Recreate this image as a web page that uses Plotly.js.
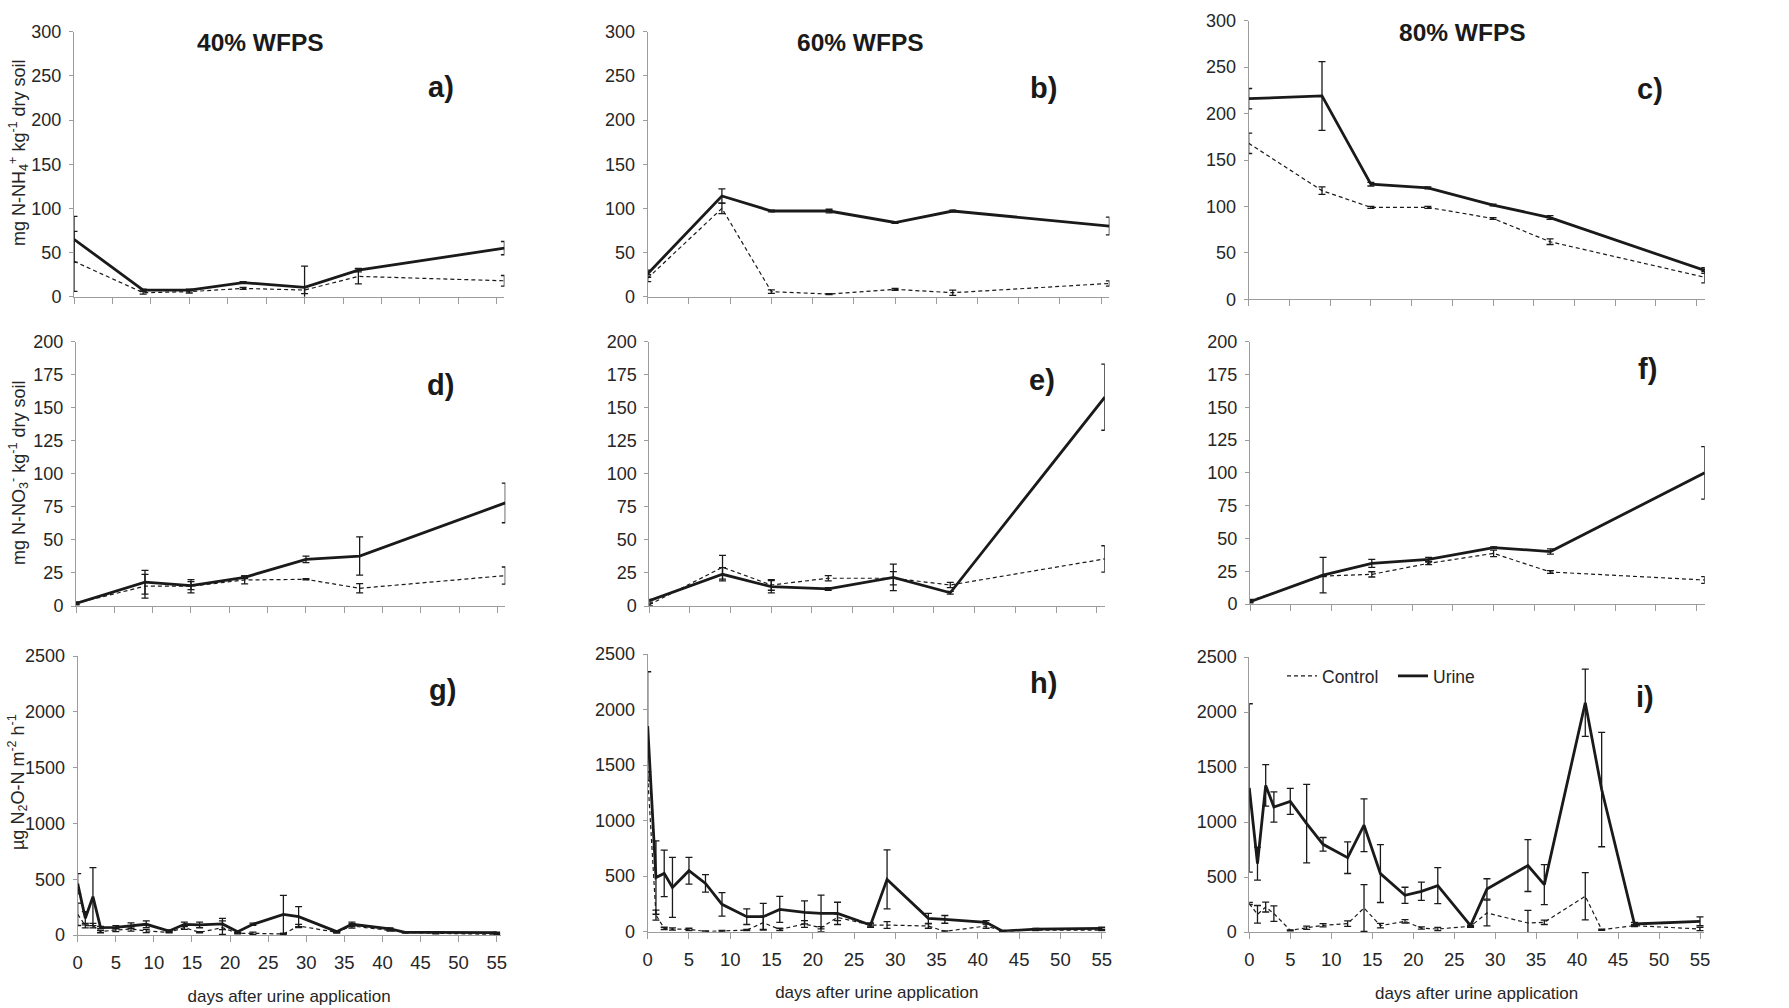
<!DOCTYPE html>
<html>
<head>
<meta charset="utf-8">
<script src="https://cdn.plot.ly/plotly-3.0.1.min.js"></script>
<style>html,body{margin:0;padding:0;background:#fff;}#chart{width:1789px;height:1008px;}</style>
</head>
<body>
<div id="chart"></div>
<script>
// ---------- DATA ----------
const daysSoil = [0, 9, 15, 22, 30, 37, 56];
const daysN2O = [0, 1, 2, 3, 5, 7, 9, 12, 14, 16, 19, 21, 23, 27, 29, 34, 36, 41, 43, 47, 55];

// NH4+ (mg N kg-1 dry soil)
const nh4_40_urine = [65, 7.5, 7.5, 16, 10.6, 30, 55];
const nh4_40_urine_err = [26, 1, 1, 1, 24, 2, 7.5];
const nh4_40_control = [40, 4.5, 5.7, 9.4, 7.5, 23, 18];
const nh4_40_control_err = [34, 1.5, 1.5, 1, 4, 8.5, 6];
const nh4_60_urine = [26, 114, 97, 97, 84, 97, 80];
const nh4_60_urine_err = [4, 8, 1, 2, 1, 1, 10];
const nh4_60_control = [21, 100, 5.7, 3, 8.3, 4.5, 15];
const nh4_60_control_err = [4, 6, 2, 0.5, 1, 3, 3];
const nh4_80_urine = [216, 219, 124, 120, 101.5, 88, 31];
const nh4_80_urine_err = [11, 37, 2, 1, 1, 2, 3];
const nh4_80_control = [168, 117, 99, 99, 87, 62, 23.7];
const nh4_80_control_err = [11, 4, 1, 1, 1, 3, 6];

// NO3- (mg N kg-1 dry soil)
const no3_40_urine = [2, 18, 15.4, 21.7, 35.3, 37.8, 78];
const no3_40_urine_err = [1, 9, 3, 1, 2.5, 14.5, 15];
const no3_40_control = [2, 15, 15, 19.7, 20.2, 13.4, 23];
const no3_40_control_err = [1, 9, 5, 3, 0.5, 3.5, 6.5];
const no3_60_urine = [4, 24, 14.6, 12.9, 21.7, 10, 158];
const no3_60_urine_err = [1, 5, 4.7, 1, 10, 1, 25];
const no3_60_control = [1, 29.3, 15.9, 21, 21, 15.9, 35.6];
const no3_60_control_err = [1, 9, 4, 2, 5, 2, 10];
const no3_80_urine = [1.8, 22, 31, 34, 43, 40, 100];
const no3_80_urine_err = [1, 13.5, 3, 1.5, 0.5, 2, 20];
const no3_80_control = [2.5, 21.3, 22.6, 31, 38.6, 24.4, 18.3];
const no3_80_control_err = [1, 0.5, 2, 1, 2.5, 1, 2.5];

// N2O (ug N2O-N m-2 h-1)
const n2o_40_urine = [460, 150, 344, 66, 69, 84, 96, 36, 96, 90, 99, 30, 96, 185, 164, 30, 96, 54, 24, 24, 21];
const n2o_40_urine_err = [90, 60, 260, 10, 15, 25, 30, 10, 20, 25, 50, 10, 10, 170, 90, 10, 20, 10, 5, 5, 5];
const n2o_40_control = [185, 84, 84, 30, 45, 54, 36, 24, 66, 24, 66, 15, 15, 9, 81, 24, 81, 45, 24, 15, 6];
const n2o_40_control_err = [100, 20, 20, 10, 15, 20, 15, 5, 15, 5, 60, 5, 10, 5, 15, 5, 20, 10, 5, 5, 5];
const n2o_60_urine = [1850, 487, 525, 399, 549, 435, 246, 135, 135, 201, 174, 165, 165, 60, 471, 120, 111, 84, 5, 24, 30];
const n2o_60_urine_err = [490, 330, 210, 270, 120, 78, 105, 70, 120, 117, 104, 165, 100, 20, 265, 45, 35, 15, 5, 5, 10];
const n2o_60_control = [1400, 150, 30, 24, 21, 3, 6, 15, 81, 21, 69, 36, 129, 60, 60, 51, 3, 51, 6, 15, 15];
const n2o_60_control_err = [40, 45, 10, 10, 10, 5, 5, 5, 60, 10, 30, 10, 30, 10, 30, 20, 5, 20, 5, 5, 5];
const n2o_80_urine = [1310, 621, 1333, 1136, 1188, 985, 797, 676, 971, 531, 334, 370, 422, 58, 391, 604, 431, 2084, 1295, 73, 97];
const n2o_80_urine_err = [765, 150, 188, 138, 118, 357, 62, 144, 240, 263, 73, 83, 164, 15, 93, 236, 182, 305, 520, 15, 40];
const n2o_80_control = [258, 161, 227, 167, 15, 39, 61, 76, 218, 58, 97, 36, 27, 52, 173, 82, 88, 325, 21, 58, 27];
const n2o_80_control_err = [10, 80, 45, 70, 5, 15, 15, 25, 212, 20, 15, 10, 15, 5, 117, 115, 20, 215, 5, 10, 15];

const columnTitles = ['40% WFPS', '60% WFPS', '80% WFPS'];
const panelLetters = ['a)', 'b)', 'c)', 'd)', 'e)', 'f)', 'g)', 'h)', 'i)'];
const yTitles = ['mg N-NH<sub>4</sub><sup>+</sup> kg<sup>-1</sup> dry soil',
                 'mg N-NO<sub>3</sub><sup>-</sup> kg<sup>-1</sup> dry soil',
                 'µg N<sub>2</sub>O-N m<sup>-2</sup> h<sup>-1</sup>'];
const xTitle = 'days after urine application';
const seriesNames = ['Control', 'Urine'];

// ---------- LAYOUT HELPERS ----------
const W = 1789, H = 1008;
const FONT = 'Liberation Sans, Arial, Helvetica, sans-serif';
const INK = '#1a1a1a';
const AXC = '#9c9c9c';
const fx = p => p / W;
const fy = p => 1 - p / H;

// pixel boxes: [x of value 0, x of range end, y of max, y of 0]
const boxes = [
  [74, 504.4, 31.7, 296.7],
  [647.7, 1109.4, 31.7, 296.7],
  [1248.7, 1704.8, 20.7, 299.3],
  [76, 505.3, 341.7, 606],
  [649.3, 1104.8, 341.7, 606],
  [1250, 1704.7, 341.7, 604],
  [77.7, 500.5, 656, 935],
  [647.7, 1105.8, 654, 931.7],
  [1249.3, 1704.1, 657, 932]
];
const yRanges = [[0, 300], [0, 200], [0, 2500]];
const yDticks = [50, 25, 500];

const panels = [
  [daysSoil, nh4_40_control, nh4_40_control_err, nh4_40_urine, nh4_40_urine_err],
  [daysSoil, nh4_60_control, nh4_60_control_err, nh4_60_urine, nh4_60_urine_err],
  [daysSoil, nh4_80_control, nh4_80_control_err, nh4_80_urine, nh4_80_urine_err],
  [daysSoil, no3_40_control, no3_40_control_err, no3_40_urine, no3_40_urine_err],
  [daysSoil, no3_60_control, no3_60_control_err, no3_60_urine, no3_60_urine_err],
  [daysSoil, no3_80_control, no3_80_control_err, no3_80_urine, no3_80_urine_err],
  [daysN2O, n2o_40_control, n2o_40_control_err, n2o_40_urine, n2o_40_urine_err],
  [daysN2O, n2o_60_control, n2o_60_control_err, n2o_60_urine, n2o_60_urine_err],
  [daysN2O, n2o_80_control, n2o_80_control_err, n2o_80_urine, n2o_80_urine_err]
];

const YTICKFONT = {family: FONT, size: 18, color: '#262626'};
const XTICKFONT = {family: FONT, size: 18.5, color: '#262626'};

const traces = [];
const layout = {
  width: W, height: H,
  margin: {l: 0, r: 0, t: 0, b: 0},
  paper_bgcolor: '#fff', plot_bgcolor: '#fff',
  font: {family: FONT, color: '#262626'},
  hovermode: false,
  showlegend: true,
  legend: {
    orientation: 'h', x: fx(1282), y: fy(658), xanchor: 'left', yanchor: 'top',
    font: {family: FONT, size: 17.5, color: '#262626'}, bgcolor: 'rgba(0,0,0,0)',
    traceorder: 'normal', itemwidth: 30, entrywidth: 66, entrywidthmode: 'pixels'
  },
  annotations: []
};

panels.forEach((p, i) => {
  const row = Math.floor(i / 3);
  const n = i + 1;
  const xs = n === 1 ? 'x' : 'x' + n;
  const ys = n === 1 ? 'y' : 'y' + n;
  const [days, ctl, ctlErr, uri, uriErr] = p;
  traces.push({
    x: days, y: ctl, xaxis: xs, yaxis: ys, type: 'scatter', mode: 'lines',
    name: seriesNames[0], showlegend: i === 8, legendgroup: 'c',
    line: {color: INK, width: 1.2, dash: '4px,3px'},
    error_y: {type: 'data', array: ctlErr, visible: true, color: INK, thickness: 1.3, width: 3.5}
  });
  traces.push({
    x: days, y: uri, xaxis: xs, yaxis: ys, type: 'scatter', mode: 'lines',
    name: seriesNames[1], showlegend: i === 8, legendgroup: 'u',
    line: {color: INK, width: 2.8},
    error_y: {type: 'data', array: uriErr, visible: true, color: INK, thickness: 1.3, width: 3.5}
  });
  const b = boxes[i];
  const xEnd = row === 2 ? 55.5 : 56;
  const xa = {
    domain: [fx(b[0]), fx(b[1])], range: [0, xEnd], anchor: ys,
    showline: true, linecolor: AXC, linewidth: 1,
    ticks: 'outside', ticklen: 6, tickcolor: AXC, tickwidth: 1,
    tickmode: 'linear', tick0: 0, dtick: 5,
    showticklabels: row === 2, showgrid: false, zeroline: false,
    ticklabelstandoff: 5,
    tickfont: XTICKFONT
  };
  if (row === 2) {
    xa.title = {text: xTitle, font: {family: FONT, size: 17, color: '#262626'}, standoff: 17};
  }
  const ya = {
    domain: [fy(b[3]), fy(b[2])], range: yRanges[row], anchor: xs,
    showline: true, linecolor: AXC, linewidth: 1,
    ticks: 'outside', ticklen: 4, tickcolor: AXC, tickwidth: 1,
    tickmode: 'linear', tick0: 0, dtick: yDticks[row],
    showgrid: false, zeroline: false,
    ticklabelstandoff: 4,
    tickfont: YTICKFONT
  };
  layout[n === 1 ? 'xaxis' : 'xaxis' + n] = xa;
  layout[n === 1 ? 'yaxis' : 'yaxis' + n] = ya;
});

// column titles
const titlePos = [[260, 43], [860, 43], [1462, 32]];
columnTitles.forEach((t, k) => {
  layout.annotations.push({
    text: '<b>' + t + '</b>', xref: 'paper', yref: 'paper',
    x: fx(titlePos[k][0]), y: fy(titlePos[k][1]), xanchor: 'center', yanchor: 'middle',
    showarrow: false, font: {family: FONT, size: 24.5, color: '#1a1a1a'}
  });
});
// panel letters
const letterPos = [[441, 87], [1043, 88], [1650, 89], [440, 385], [1042, 380], [1647, 369], [442, 690], [1043, 683], [1645, 697]];
panelLetters.forEach((t, k) => {
  layout.annotations.push({
    text: '<b>' + t + '</b>', xref: 'paper', yref: 'paper',
    x: fx(letterPos[k][0]), y: fy(letterPos[k][1]), xanchor: 'center', yanchor: 'middle',
    showarrow: false, font: {family: FONT, size: 29, color: '#1a1a1a'}
  });
});
// y titles
const yTitlePos = [[18, 153], [18, 473], [17, 782]];
yTitles.forEach((t, k) => {
  layout.annotations.push({
    text: t, xref: 'paper', yref: 'paper', textangle: -90,
    x: fx(yTitlePos[k][0]), y: fy(yTitlePos[k][1]), xanchor: 'center', yanchor: 'middle',
    showarrow: false, font: {family: FONT, size: 18, color: '#262626'}
  });
});

Plotly.newPlot('chart', traces, layout, {staticPlot: true, displayModeBar: false});
</script>
</body>
</html>
